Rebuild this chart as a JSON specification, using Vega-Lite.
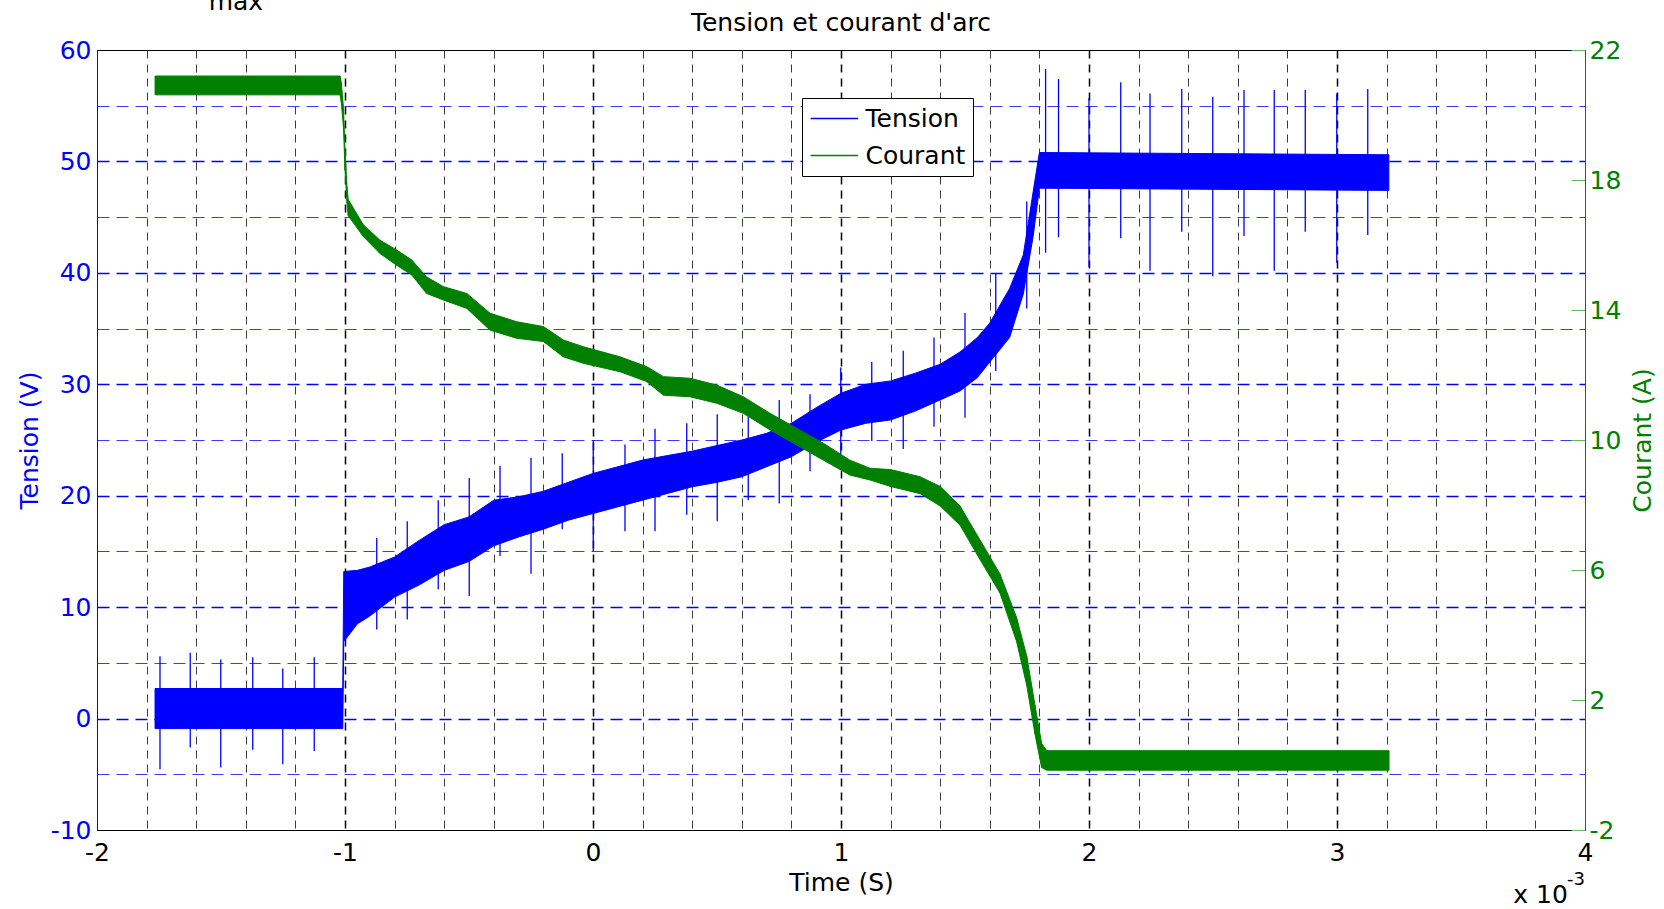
{
  "$schema": "https://vega.github.io/schema/vega-lite/v6.json",
  "width": 1488,
  "height": 780,
  "autosize": {"type": "none"},
  "padding": {"left": 97, "top": 50, "right": 79, "bottom": 79},
  "background": "white",
  "config": {
    "font": "DejaVu Sans",
    "view": {"stroke": "black", "strokeWidth": 1}
  },
  "datasets": {
    "tension": [
      {"t": -1.766, "lo": -0.9, "hi": 2.7},
      {"t": -1.009, "lo": -0.9, "hi": 2.7},
      {"t": -1.005, "lo": 6.9, "hi": 13.2},
      {"t": -0.95, "lo": 8.5, "hi": 13.3},
      {"t": -0.9, "lo": 9.2, "hi": 13.6},
      {"t": -0.8, "lo": 10.9, "hi": 14.5},
      {"t": -0.7, "lo": 12.0, "hi": 16.0},
      {"t": -0.6, "lo": 13.3, "hi": 17.4},
      {"t": -0.5, "lo": 14.1, "hi": 18.1},
      {"t": -0.4, "lo": 15.5, "hi": 19.6},
      {"t": -0.3, "lo": 16.3, "hi": 19.9},
      {"t": -0.2, "lo": 17.0, "hi": 20.4},
      {"t": -0.1, "lo": 17.8, "hi": 21.2},
      {"t": 0.0, "lo": 18.4, "hi": 22.0},
      {"t": 0.1, "lo": 19.0, "hi": 22.6},
      {"t": 0.2, "lo": 19.6, "hi": 23.2},
      {"t": 0.3, "lo": 20.2, "hi": 23.6},
      {"t": 0.4, "lo": 20.8, "hi": 24.0},
      {"t": 0.5, "lo": 21.2, "hi": 24.5},
      {"t": 0.6, "lo": 21.7, "hi": 25.0},
      {"t": 0.7, "lo": 22.6, "hi": 25.6},
      {"t": 0.8, "lo": 23.5, "hi": 26.5},
      {"t": 0.9, "lo": 24.8, "hi": 27.9},
      {"t": 1.0, "lo": 25.9, "hi": 29.2},
      {"t": 1.1, "lo": 26.5, "hi": 30.0},
      {"t": 1.2, "lo": 26.8, "hi": 30.3},
      {"t": 1.3, "lo": 27.6, "hi": 31.0},
      {"t": 1.4, "lo": 28.6, "hi": 31.8},
      {"t": 1.48, "lo": 29.4, "hi": 32.9},
      {"t": 1.55, "lo": 30.6, "hi": 34.2},
      {"t": 1.6, "lo": 32.0, "hi": 35.5},
      {"t": 1.68, "lo": 34.2, "hi": 38.6},
      {"t": 1.735, "lo": 38.1, "hi": 41.6},
      {"t": 1.775, "lo": 43.3, "hi": 47.3},
      {"t": 1.8, "lo": 47.6, "hi": 50.8},
      {"t": 3.209, "lo": 47.4, "hi": 50.6}
    ],
    "spikes": [
      {"t": -1.746, "lo": -4.55, "hi": 5.6},
      {"t": -1.624, "lo": -2.6, "hi": 5.9},
      {"t": -1.501, "lo": -4.4, "hi": 5.3},
      {"t": -1.372, "lo": -2.8, "hi": 5.5},
      {"t": -1.251, "lo": -4.1, "hi": 4.5},
      {"t": -1.124, "lo": -2.9, "hi": 5.5},
      {"t": -0.872, "lo": 8.0, "hi": 16.2},
      {"t": -0.749, "lo": 8.9, "hi": 17.7},
      {"t": -0.624, "lo": 11.6, "hi": 19.6},
      {"t": -0.499, "lo": 11.0, "hi": 21.6},
      {"t": -0.375, "lo": 14.6, "hi": 22.7},
      {"t": -0.25, "lo": 13.0, "hi": 23.4},
      {"t": -0.124, "lo": 17.0, "hi": 23.8},
      {"t": 0.001, "lo": 15.0, "hi": 25.0},
      {"t": 0.129, "lo": 16.8, "hi": 24.6},
      {"t": 0.25, "lo": 16.8, "hi": 26.0},
      {"t": 0.378, "lo": 18.3, "hi": 26.5},
      {"t": 0.501, "lo": 17.7, "hi": 27.3},
      {"t": 0.626, "lo": 19.6, "hi": 27.1},
      {"t": 0.751, "lo": 19.3, "hi": 28.6},
      {"t": 0.875, "lo": 22.2, "hi": 29.1},
      {"t": 0.999, "lo": 22.3, "hi": 31.5},
      {"t": 1.124, "lo": 24.9, "hi": 32.0},
      {"t": 1.251, "lo": 24.2, "hi": 33.0},
      {"t": 1.375, "lo": 26.2, "hi": 34.2},
      {"t": 1.5, "lo": 27.0, "hi": 36.4},
      {"t": 1.624, "lo": 31.2, "hi": 39.9},
      {"t": 1.749, "lo": 36.8, "hi": 46.4},
      {"t": 1.825, "lo": 41.8, "hi": 58.3},
      {"t": 1.877, "lo": 43.2, "hi": 57.4},
      {"t": 2.0, "lo": 40.5, "hi": 55.7},
      {"t": 2.128, "lo": 43.1, "hi": 57.1},
      {"t": 2.246, "lo": 40.2, "hi": 56.1},
      {"t": 2.374, "lo": 43.7, "hi": 56.5},
      {"t": 2.499, "lo": 39.7, "hi": 55.8},
      {"t": 2.625, "lo": 43.3, "hi": 56.4},
      {"t": 2.747, "lo": 40.2, "hi": 56.4},
      {"t": 2.872, "lo": 43.7, "hi": 56.4},
      {"t": 2.999, "lo": 40.9, "hi": 56.1},
      {"t": 3.124, "lo": 43.4, "hi": 56.5}
    ],
    "courant": [
      {"t": -1.765, "lo": 20.62, "hi": 21.2},
      {"t": -1.02, "lo": 20.62, "hi": 21.2},
      {"t": -1.015, "lo": 20.4, "hi": 21.0},
      {"t": -1.006, "lo": 19.6, "hi": 20.2},
      {"t": -1.0, "lo": 18.3, "hi": 18.9},
      {"t": -0.992, "lo": 17.3, "hi": 17.8},
      {"t": -0.987, "lo": 16.9, "hi": 17.4},
      {"t": -0.926, "lo": 16.26, "hi": 16.62},
      {"t": -0.859, "lo": 15.74, "hi": 16.15},
      {"t": -0.792, "lo": 15.38, "hi": 15.85},
      {"t": -0.731, "lo": 15.08, "hi": 15.54},
      {"t": -0.671, "lo": 14.51, "hi": 15.02},
      {"t": -0.604, "lo": 14.31, "hi": 14.72},
      {"t": -0.509, "lo": 14.05, "hi": 14.51},
      {"t": -0.415, "lo": 13.38, "hi": 13.9},
      {"t": -0.308, "lo": 13.13, "hi": 13.64},
      {"t": -0.2, "lo": 13.03, "hi": 13.49},
      {"t": -0.12, "lo": 12.56, "hi": 13.08},
      {"t": -0.039, "lo": 12.36, "hi": 12.87},
      {"t": 0.109, "lo": 12.1, "hi": 12.56},
      {"t": 0.216, "lo": 11.8, "hi": 12.26},
      {"t": 0.284, "lo": 11.38, "hi": 11.95},
      {"t": 0.391, "lo": 11.33, "hi": 11.9},
      {"t": 0.499, "lo": 11.13, "hi": 11.69},
      {"t": 0.606, "lo": 10.82, "hi": 11.33},
      {"t": 0.714, "lo": 10.31, "hi": 10.82},
      {"t": 0.821, "lo": 9.85, "hi": 10.36},
      {"t": 0.929, "lo": 9.38, "hi": 9.9},
      {"t": 1.036, "lo": 8.92, "hi": 9.38},
      {"t": 1.117, "lo": 8.77, "hi": 9.13},
      {"t": 1.2, "lo": 8.57, "hi": 9.09},
      {"t": 1.319, "lo": 8.35, "hi": 8.87},
      {"t": 1.4, "lo": 7.97, "hi": 8.57},
      {"t": 1.48, "lo": 7.38, "hi": 7.97},
      {"t": 1.56, "lo": 6.33, "hi": 6.93},
      {"t": 1.641, "lo": 5.29, "hi": 5.88},
      {"t": 1.708, "lo": 3.8, "hi": 4.54},
      {"t": 1.749, "lo": 2.45, "hi": 3.35},
      {"t": 1.782, "lo": 0.96, "hi": 1.85},
      {"t": 1.809, "lo": -0.08, "hi": 0.66},
      {"t": 1.83, "lo": -0.16, "hi": 0.44},
      {"t": 3.209, "lo": -0.16, "hi": 0.44}
    ],
    "notes": [
      {"label": "Tension et courant d'arc", "role": "title"},
      {"label": "max", "role": "clip"},
      {"label": "x 10", "role": "exp"},
      {"label": "-3", "role": "sup"}
    ]
  },
  "layer": [
    {
      "layer": [
        {
          "data": {"name": "tension"},
          "mark": {"type": "area", "color": "#0000ff", "stroke": "#0000ff", "strokeWidth": 1, "opacity": 1},
          "encoding": {
            "x": {
              "field": "t",
              "type": "quantitative",
              "scale": {"domain": [-2, 4], "nice": false, "zero": false},
              "axis": {
                "values": [-2, -1.8, -1.6, -1.4, -1.2, -1, -0.8, -0.6, -0.4, -0.2, 0, 0.2, 0.4, 0.6, 0.8, 1, 1.2, 1.4, 1.6, 1.8, 2, 2.2, 2.4, 2.6, 2.8, 3, 3.2, 3.4, 3.6, 3.8, 4],
                "labelExpr": "datum.value % 1 === 0 ? '' + datum.value : ''",
                "labelFontSize": 25,
                "labelColor": "black",
                "labelPadding": 10,
                "labelFlush": false,
                "labelOverlap": false,
                "ticks": false,
                "domainColor": "black",
                "domainWidth": 1,
                "grid": true,
                "gridDash": [8, 6],
                "gridColor": {"condition": {"test": "datum.value % 1 === 0", "value": "#000000"}, "value": "#3c3c3c"},
                "gridWidth": {"condition": {"test": "datum.value % 1 === 0", "value": 1.5}, "value": 1},
                "gridOpacity": {"condition": {"test": "datum.value === -2 || datum.value === 4", "value": 0}, "value": 1},
                "title": "Time (S)",
                "titleFontSize": 25,
                "titleFontWeight": "normal",
                "titleColor": "black",
                "titleX": 744,
                "titleY": 52,
                "titleBaseline": "middle",
                "titleAlign": "center",
                "titleAnchor": null
              }
            },
            "y": {
              "field": "lo",
              "type": "quantitative",
              "scale": {"domain": [-10, 60], "nice": false, "zero": false},
              "axis": {
                "values": [-10, -5, 0, 5, 10, 15, 20, 25, 30, 35, 40, 45, 50, 55, 60],
                "labelExpr": "datum.value % 10 === 0 ? '' + datum.value : ''",
                "labelFontSize": 25,
                "labelColor": "#0000ff",
                "labelPadding": 6,
                "labelFlush": false,
                "labelOverlap": false,
                "ticks": false,
                "domainColor": "#0000ff",
                "domainWidth": 1,
                "grid": true,
                "gridDash": [12, 7],
                "gridColor": {"condition": {"test": "datum.value % 10 === 0", "value": "#0000ff"}, "value": "#3a3aff"},
                "gridWidth": {"condition": {"test": "datum.value % 10 === 0", "value": 1.6}, "value": 1},
                "gridOpacity": {"condition": {"test": "datum.value === -10 || datum.value === 60", "value": 0}, "value": 1},
                "title": "Tension (V)",
                "titleFontSize": 25,
                "titleFontWeight": "normal",
                "titleColor": "#0000ff",
                "titleAngle": -90,
                "titleX": -68,
                "titleY": 390,
                "titleBaseline": "middle",
                "titleAlign": "center",
                "titleAnchor": null
              }
            },
            "y2": {"field": "hi"}
          }
        },
        {
          "data": {"name": "spikes"},
          "mark": {"type": "rule", "strokeWidth": 1.3},
          "encoding": {
            "x": {"field": "t", "type": "quantitative"},
            "y": {"field": "lo", "type": "quantitative"},
            "y2": {"field": "hi"},
            "color": {
              "datum": "Tension",
              "type": "nominal",
              "scale": {"domain": ["Tension", "Courant"], "range": ["#0000ff", "#008000"]},
              "legend": {
                "orient": "none",
                "legendX": 705,
                "legendY": 48,
                "title": null,
                "symbolType": "M-1,0H3",
                "symbolSize": 566,
                "symbolStrokeWidth": 1.3,
                "labelFontSize": 25,
                "labelColor": "black",
                "labelOffset": 30,
                "padding": 7.5,
                "rowPadding": 11,
                "strokeColor": "black",
                "fillColor": "white"
              }
            }
          }
        },
        {
          "data": {"name": "notes"},
          "transform": [{"filter": "datum.role === 'title'"}],
          "mark": {"type": "text", "fontSize": 25, "color": "black", "align": "center", "baseline": "alphabetic"},
          "encoding": {
            "x": {"datum": 1.0, "type": "quantitative"},
            "y": {"datum": 61.7, "type": "quantitative"},
            "text": {"field": "label", "type": "nominal"}
          }
        },
        {
          "data": {"name": "notes"},
          "transform": [{"filter": "datum.role === 'clip'"}],
          "mark": {"type": "text", "fontSize": 25, "color": "black", "align": "center", "baseline": "alphabetic"},
          "encoding": {
            "x": {"datum": -1.44, "type": "quantitative"},
            "y": {"datum": 63.6, "type": "quantitative"},
            "text": {"field": "label", "type": "nominal"}
          }
        },
        {
          "data": {"name": "notes"},
          "transform": [{"filter": "datum.role === 'exp'"}],
          "mark": {"type": "text", "fontSize": 25, "color": "black", "align": "right", "baseline": "alphabetic"},
          "encoding": {
            "x": {"datum": 3.931, "type": "quantitative"},
            "y": {"datum": -16.55, "type": "quantitative"},
            "text": {"field": "label", "type": "nominal"}
          }
        },
        {
          "data": {"name": "notes"},
          "transform": [{"filter": "datum.role === 'sup'"}],
          "mark": {"type": "text", "fontSize": 18, "color": "black", "align": "right", "baseline": "alphabetic"},
          "encoding": {
            "x": {"datum": 4, "type": "quantitative"},
            "y": {"datum": -14.93, "type": "quantitative"},
            "text": {"field": "label", "type": "nominal"}
          }
        }
      ]
    },
    {
      "layer": [
        {
          "data": {"name": "courant"},
          "mark": {"type": "area", "color": "#008000", "stroke": "#008000", "strokeWidth": 1, "opacity": 1},
          "encoding": {
            "x": {"field": "t", "type": "quantitative"},
            "y": {
              "field": "lo",
              "type": "quantitative",
              "scale": {"domain": [-2, 22], "nice": false, "zero": false},
              "axis": {
                "orient": "right",
                "values": [-2, 2, 6, 10, 14, 18, 22],
                "labelExpr": "'' + datum.value",
                "labelFontSize": 25,
                "labelColor": "#008000",
                "labelPadding": 18,
                "labelFlush": false,
                "labelOverlap": false,
                "ticks": true,
                "tickSize": -14,
                "tickColor": "#66b366",
                "tickWidth": 1,
                "domainColor": "#1f5f5f",
                "domainWidth": 1,
                "grid": false,
                "title": "Courant (A)",
                "titleFontSize": 25,
                "titleFontWeight": "normal",
                "titleColor": "#008000",
                "titleAngle": -90,
                "titleX": 57,
                "titleY": 390,
                "titleBaseline": "middle",
                "titleAlign": "center",
                "titleAnchor": null
              }
            },
            "y2": {"field": "hi"}
          }
        },
        {
          "data": {"name": "courant"},
          "mark": {"type": "rule", "strokeWidth": 1},
          "encoding": {
            "x": {"field": "t", "type": "quantitative"},
            "y": {"field": "lo", "type": "quantitative"},
            "y2": {"field": "hi"},
            "color": {"datum": "Courant", "type": "nominal"}
          }
        }
      ]
    }
  ],
  "resolve": {"scale": {"y": "independent"}, "axis": {"y": "independent"}}
}
